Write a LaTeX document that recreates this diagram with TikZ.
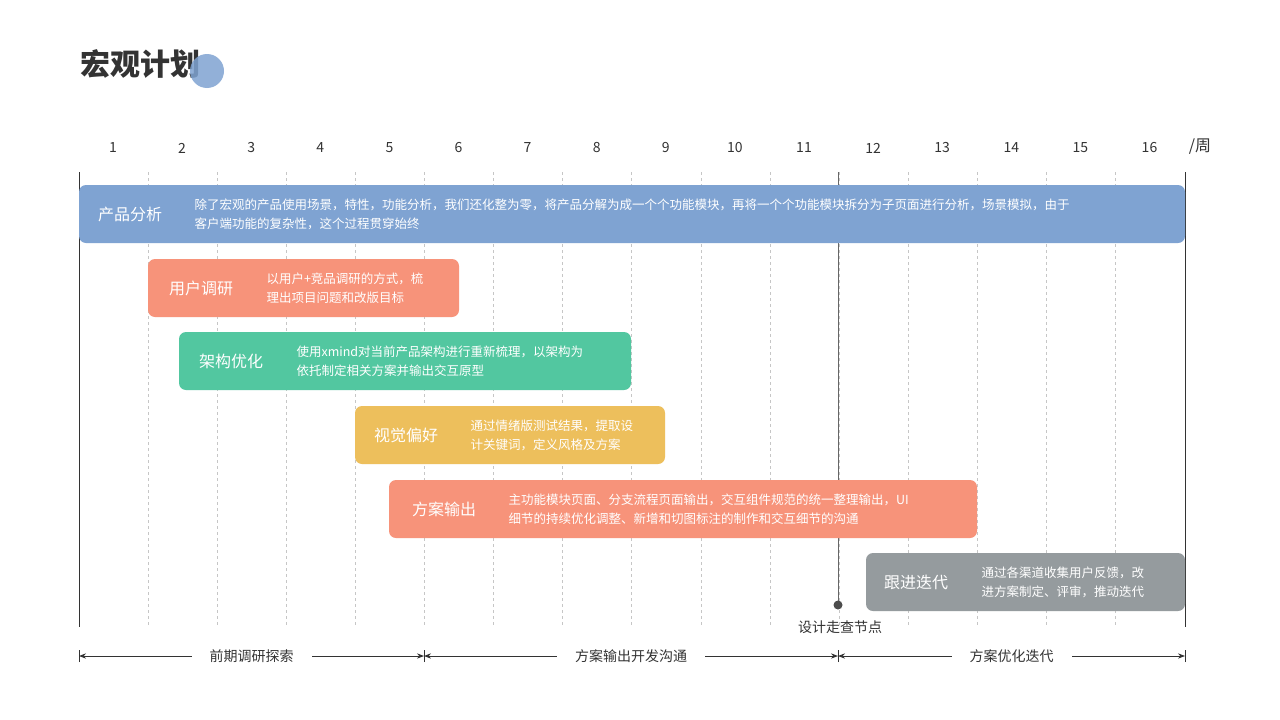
\documentclass[tikz,border=0pt]{standalone}
\usepackage{fontspec}
\setmainfont{Noto Sans CJK SC}
\usetikzlibrary{arrows.meta, calc}
\definecolor{cBlue}{HTML}{7FA3D2}
\definecolor{cSalmon}{HTML}{F7937A}
\definecolor{cGreen}{HTML}{52C7A0}
\definecolor{cYellow}{HTML}{EDBF5C}
\definecolor{cGray}{HTML}{959B9E}
\definecolor{cText}{HTML}{333333}
\tikzset{
  barbox/.style = {rounded corners=7pt, fill=#1, draw=none},
  bartitle/.style = {text=white, font=\fontsize{16}{18}\selectfont},
  bardesc/.style = {text=white, anchor=west, align=left, font=\fontsize{12.5}{19}\selectfont},
  gridline/.style = {draw=gray!45, dashed, line width=0.8pt},
  phase/.style = {fill=white, text=cText, font=\fontsize{14}{16}\selectfont},
}
% x0 x1 y0 title-x desc-x colour title desc
\newcommand{\planbar}[8]{
  \fill[barbox=#6] (#1,#3) rectangle (#2,#3+58);
  \node[bartitle] at (#4,#3+29) {#7};
  \node[bardesc] at (#5,#3+29) {#8};
}
\begin{document}
\begin{tikzpicture}[x=1pt, y=-1pt]
  \useasboundingbox (0,0) rectangle (1280,720);
  \fill[white] (0,0) rectangle (1280,720);

  % title
  \node[text=cText, font=\fontsize{30}{32}\bfseries\selectfont] (title) at (140,64) {宏观计划};
  \fill[cBlue, opacity=0.85] (207,71) circle (17);

  % week numbers and grid
  \foreach \i in {1,...,16} {
    \node[text=cText, font=\fontsize{14}{16}\selectfont] (wk\i) at ({113+69.1*(\i-1)},148) {\i};
  }
  \node[text=cText, font=\fontsize{16}{18}\selectfont] (unit) at (1200,147) {/周};
  \foreach \i in {1,...,15} {
    \draw[gridline] ({79+69.1*\i},172) -- ({79+69.1*\i},625);
  }
  \draw[cText, line width=1pt] (79,172) -- (79,627);
  \draw[cText, line width=1pt] (1185,172) -- (1185,627);
  \draw[gray!80!black, line width=1pt] (838,172) -- (838,605);

  % bars
  \planbar{79}{1185}{185}{130}{191}{cBlue}{产品分析}{除了宏观的产品使用场景，特性，功能分析，我们还化整为零，将产品分解为成一个个功能模块，再将一个个功能模块拆分为子页面进行分析，场景模拟，由于\\客户端功能的复杂性，这个过程贯穿始终}
  \planbar{148}{459}{259}{201}{263}{cSalmon}{用户调研}{以用户+竞品调研的方式，梳\\理出项目问题和改版目标}
  \planbar{179}{631}{332}{231}{293}{cGreen}{架构优化}{使用xmind对当前产品架构进行重新梳理，以架构为\\依托制定相关方案并输出交互原型}
  \planbar{355}{665}{406}{406}{467}{cYellow}{视觉偏好}{通过情绪版测试结果，提取设\\计关键词，定义风格及方案}
  \planbar{389}{977}{480}{444}{505}{cSalmon}{方案输出}{主功能模块页面、分支流程页面输出，交互组件规范的统一整理输出，UI\\细节的持续优化调整、新增和切图标注的制作和交互细节的沟通}
  \planbar{866}{1185}{553}{916}{978}{cGray}{跟进迭代}{通过各渠道收集用户反馈，改\\进方案制定、评审，推动迭代}

  % review point
  \fill[gray!60!black] (838,605) circle (4.5);
  \node[text=cText, font=\fontsize{14}{16}\selectfont] (review) at (840,627) {设计走查节点};

  % phases
  \coordinate (p0) at (79,656);
  \coordinate (p1) at (424,656);
  \coordinate (p2) at (838,656);
  \coordinate (p3) at (1185,656);
  \foreach \p in {p0,p1,p2,p3} {
    \draw[cText, line width=1pt] ([yshift=-6pt]\p) -- ([yshift=6pt]\p);
  }
  \draw[cText, line width=0.9pt, {Stealth[length=7pt]}-{Stealth[length=7pt]}] (p0) -- (p1);
  \draw[cText, line width=0.9pt, {Stealth[length=7pt]}-{Stealth[length=7pt]}] (p1) -- (p2);
  \draw[cText, line width=0.9pt, {Stealth[length=7pt]}-{Stealth[length=7pt]}] (p2) -- (p3);
  \node[phase, inner xsep=18pt] (ph1) at ($(p0)!0.5!(p1)$) {前期调研探索};
  \node[phase, inner xsep=18pt] (ph2) at ($(p1)!0.5!(p2)$) {方案输出开发沟通};
  \node[phase, inner xsep=18pt] (ph3) at ($(p2)!0.5!(p3)$) {方案优化迭代};
\end{tikzpicture}
\end{document}
